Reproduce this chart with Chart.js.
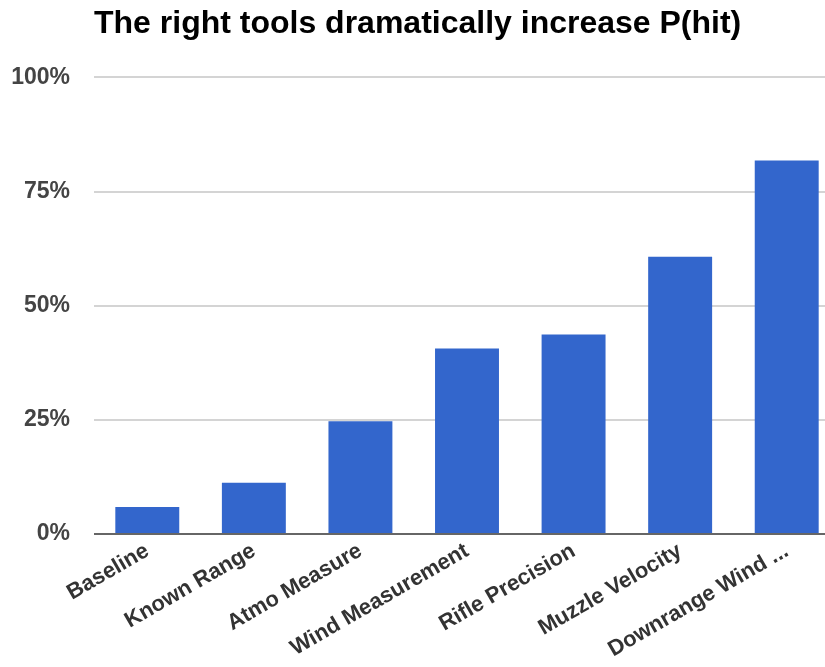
<!DOCTYPE html>
<html>
<head>
<meta charset="utf-8">
<script src="https://cdn.jsdelivr.net/npm/chart.js@4.4.0/dist/chart.umd.min.js"></script>
<style>
  html, body { margin: 0; padding: 0; background: #fff; overflow: hidden; }
  #wrap { width: 840px; height: 667px; }
</style>
</head>
<body>
<div id="wrap"><canvas id="grafico"></canvas></div>
<script>
const categorias = ["Baseline", "Known Range", "Atmo Measure", "Wind Measurement",
    "Rifle Precision", "Muzzle Velocity", "Downrange Wind ..."];
const valores = [5.9, 11.2, 24.7, 40.6, 43.7, 60.7, 81.8];
const marcasY = [0, 25, 50, 75, 100];

const fonte = "'Liberation Sans', Arial, sans-serif";

const ctx = document.getElementById("grafico").getContext("2d");
new Chart(ctx, {
    type: "bar",
    data: {
        labels: categorias,
        datasets: [{
            label: "P(hit)",
            data: valores,
            backgroundColor: "#3366cc",
            borderWidth: 0,
            barPercentage: 0.8,
            categoryPercentage: 0.75
        }]
    },
    options: {
        responsive: true,
        maintainAspectRatio: false,
        animation: false,
        layout: { padding: 0 },
        plugins: {
            legend: { display: false },
            tooltip: { enabled: false },
            title: {
                display: true,
                text: "The right tools dramatically increase P(hit)",
                align: "start",
                fullSize: false,
                color: "#000",
                font: { family: fonte, size: 32, weight: "bold", lineHeight: 1.2 },
                padding: { top: 5, bottom: 34 }
            }
        },
        scales: {
            x: {
                grid: { display: false, drawTicks: false },
                border: { display: false },
                ticks: {
                    color: "#333",
                    font: { family: fonte, size: 22, weight: "bold" },
                    maxRotation: 30,
                    minRotation: 30,
                    padding: 4,
                    autoSkip: false
                },
                afterFit: s => { s.height = 133; }
            },
            y: {
                min: 0,
                max: 100,
                afterBuildTicks: s => { s.ticks = marcasY.map(v => ({ value: v })); },
                grid: {
                    drawTicks: false,
                    lineWidth: 2,
                    color: c => c.tick && c.tick.value === 0 ? "#666" : "#d4d4d4"
                },
                border: { display: false },
                ticks: {
                    color: "#444",
                    padding: 24,
                    font: { family: fonte, size: 23, weight: "bold" },
                    callback: v => v + "%"
                },
                afterFit: s => { s.width = 94; }
            }
        }
    }
});
</script>
</body>
</html>
